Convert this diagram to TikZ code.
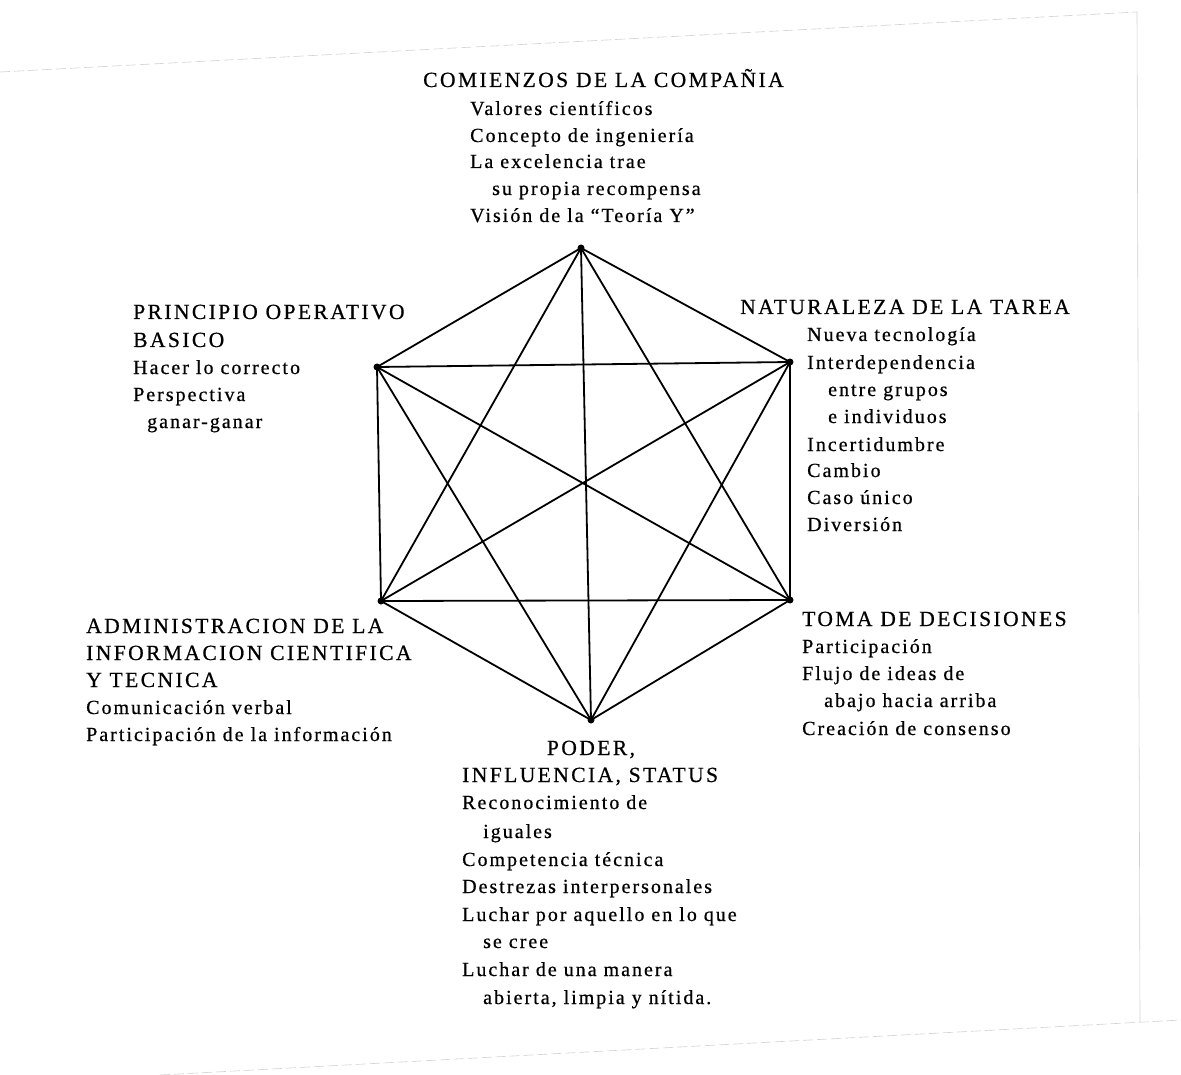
\documentclass[tikz,border=0pt]{standalone}
\usepackage{fontspec}
\setmainfont{Liberation Serif}
\newfontfamily\bodyfont[LetterSpace=10,FakeBold=0.6]{Liberation Serif}
\newfontfamily\headfont[LetterSpace=11,FakeBold=0.6]{Liberation Serif}
\begin{document}
\begin{tikzpicture}[x=1pt,y=-1pt,
  ln/.style={anchor=base west,inner sep=0pt,font=\bodyfont\fontsize{20}{20}\selectfont},
  hd/.style={anchor=base west,inner sep=0pt,font=\headfont\fontsize{21.6}{21.6}\selectfont},
  edge/.style={line width=1.8pt,black},
  vtx/.style={circle,fill=black,inner sep=0pt,minimum size=7pt},
  scanedge/.style={gray!35,line width=0.6pt,dash pattern=on 10pt off 4pt}]
\useasboundingbox (0,0) rectangle (1181,1075);
\fill[white] (0,0) rectangle (1181,1075);
% scan page edges
\draw[scanedge] (0,72) -- (1137,12);
\draw[gray!35,line width=0.6pt] (1137,12) -- (1140,1022);
\draw[scanedge] (160,1075) -- (1181,1020);
% vertices
\node[vtx] (t)  at (581,248) {};
\node[vtx] (ur) at (790,362) {};
\node[vtx] (lr) at (790,600) {};
\node[vtx] (b)  at (591,720) {};
\node[vtx] (ll) at (381,601) {};
\node[vtx] (ul) at (377,367) {};
% complete graph
\foreach \a/\c in {t/ur,t/lr,t/b,t/ll,t/ul,ur/lr,ur/b,ur/ll,ur/ul,lr/b,lr/ll,lr/ul,b/ll,b/ul,ll/ul}
  \draw[edge] (\a.center) -- (\c.center);
% top block
\node[hd] (t0) at (423,87) {COMIENZOS DE LA COMPAÑIA};
\node[ln] (t1) at (470,115) {Valores científicos};
\node[ln] (t2) at (470,142) {Concepto de ingeniería};
\node[ln] (t3) at (470,168) {La excelencia trae};
\node[ln] (t4) at (492,195) {su propia recompensa};
\node[ln] (t5) at (470,222) {Visión de la “Teoría Y”};
% upper right block
\node[hd] (r0) at (740,314) {NATURALEZA DE LA TAREA};
\node[ln] (r1) at (807,341) {Nueva tecnología};
\node[ln] (r2) at (807,369) {Interdependencia};
\node[ln] (r3) at (828,396) {entre grupos};
\node[ln] (r4) at (828,423) {e individuos};
\node[ln] (r5) at (807,451) {Incertidumbre};
\node[ln] (r6) at (807,477) {Cambio};
\node[ln] (r7) at (807,504) {Caso único};
\node[ln] (r8) at (807,531) {Diversión};
% upper left block
\node[hd] (l0) at (133,319) {PRINCIPIO OPERATIVO};
\node[hd] (l1) at (133,347) {BASICO};
\node[ln] (l2) at (133,374) {Hacer lo correcto};
\node[ln] (l3) at (133,401) {Perspectiva};
\node[ln] (l4) at (147,428) {ganar-ganar};
% lower left block
\node[hd] (a0) at (86,633) {ADMINISTRACION DE LA};
\node[hd] (a1) at (86,660) {INFORMACION CIENTIFICA};
\node[hd] (a2) at (86,687) {Y TECNICA};
\node[ln] (a3) at (86,714) {Comunicación verbal};
\node[ln] (a4) at (86,741) {Participación de la información};
% lower right block
\node[hd] (d0) at (802,626) {TOMA DE DECISIONES};
\node[ln] (d1) at (802,653) {Participación};
\node[ln] (d2) at (802,680) {Flujo de ideas de};
\node[ln] (d3) at (824,707) {abajo hacia arriba};
\node[ln] (d4) at (802,735) {Creación de consenso};
% bottom block
\node[hd,anchor=base] (p0) at (591,755) {PODER,};
\node[hd] (p1) at (462,782) {INFLUENCIA, STATUS};
\node[ln] (p2) at (462,809) {Reconocimiento de};
\node[ln] (p3) at (483,838) {iguales};
\node[ln] (p4) at (462,866) {Competencia técnica};
\node[ln] (p5) at (462,893) {Destrezas interpersonales};
\node[ln] (p6) at (462,921) {Luchar por aquello en lo que};
\node[ln] (p7) at (483,948) {se cree};
\node[ln] (p8) at (462,976) {Luchar de una manera};
\node[ln] (p9) at (483,1004) {abierta, limpia y nítida.};
\end{tikzpicture}
\end{document}
